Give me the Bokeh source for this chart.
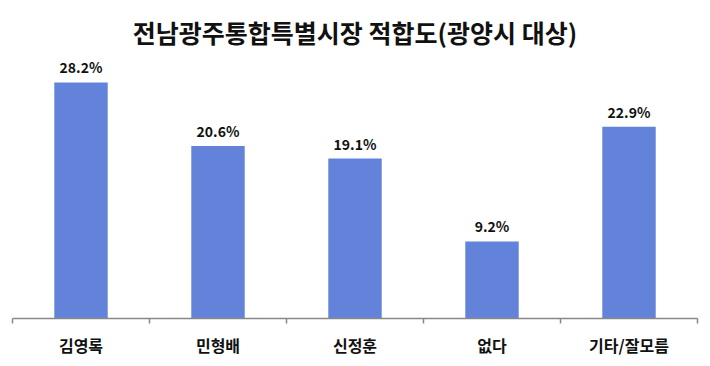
from bokeh.plotting import figure
from bokeh.models import ColumnDataSource, Range1d, FixedTicker, LinearAxis, Title
from bokeh.core.properties import value
from bokeh.embed import file_html
from bokeh.resources import INLINE

categories = ["김영록", "민형배", "신정훈", "없다", "기타/잘모름"]
values = [28.2, 20.6, 19.1, 9.2, 22.9]
labels = ["28.2%", "20.6%", "19.1%", "9.2%", "22.9%"]

FONT = "Noto Sans CJK KR"
centers = [i + 0.5 for i in range(len(categories))]
bounds = [float(i) for i in range(len(categories) + 1)]

src = ColumnDataSource(dict(x=centers, top=values, lab=labels))

p = figure(width=710, height=366, output_backend="svg", toolbar_location=None,
           x_range=Range1d(0, len(categories)), y_range=Range1d(0, 30.7),
           min_border_left=12, min_border_right=13, min_border_top=60, min_border_bottom=48,
           x_axis_location=None, y_axis_location=None)
p.outline_line_color = None
p.xgrid.visible = False
p.ygrid.visible = False

p.vbar(x="x", top="top", width=0.39, source=src, fill_color="#6383DB", line_color=None)
p.text(x="x", y="top", text="lab", source=src, text_align="center", text_baseline="bottom",
       y_offset=-5, text_font=value(FONT), text_font_style="bold", text_font_size="14px",
       text_color="#111111")

ax = LinearAxis(ticker=FixedTicker(ticks=centers, minor_ticks=bounds))
ax.major_label_overrides = {c: n for c, n in zip(centers, categories)}
ax.major_tick_out = 0
ax.major_tick_in = 0
ax.minor_tick_out = 5
ax.minor_tick_in = 0
ax.minor_tick_line_color = "#888888"
ax.axis_line_color = "#888888"
ax.axis_line_width = 1.5
ax.minor_tick_line_width = 1.5
ax.major_label_standoff = 9
ax.major_label_text_font = FONT
ax.major_label_text_font_style = "bold"
ax.major_label_text_font_size = "16px"
ax.major_label_text_color = "#111111"
p.add_layout(ax, "below")

t = Title(text="전남광주통합특별시장 적합도(광양시 대상)", align="center",
          text_font=FONT, text_font_style="bold", text_font_size="25px",
          text_color="#111111", offset=0, standoff=23)
p.add_layout(t, "above")

open("out.html", "w").write(file_html(p, INLINE))
